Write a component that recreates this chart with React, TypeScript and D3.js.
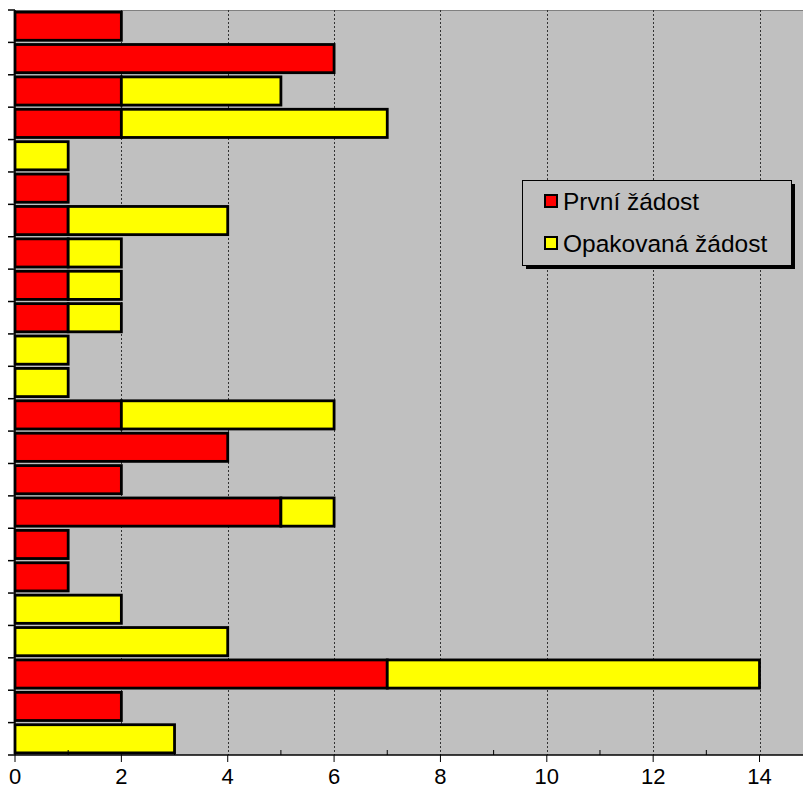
import { useEffect, useRef } from "react";
import * as d3 from "d3";

// one row per category, top to bottom
const rows = d3.range(23).map((i) => `r${i + 1}`);
const prvni = [2, 6, 2, 2, 0, 1, 1, 1, 1, 1, 0, 0, 2, 4, 2, 5, 1, 1, 0, 0, 7, 2, 0];
const opakovana = [0, 0, 3, 5, 1, 0, 3, 1, 1, 1, 1, 1, 4, 0, 0, 1, 0, 0, 2, 4, 7, 0, 3];
const xTicks = [0, 2, 4, 6, 8, 10, 12, 14, 16];
const seriesNames = ["První žádost", "Opakovaná žádost"];
const seriesColors = ["#ff0000", "#ffff00"];

function App() {
  const svgRef = useRef<SVGSVGElement>(null);

  useEffect(() => {
    const width = 803;
    const height = 801;
    const margin = { top: 10, left: 15, bottom: 755 };
    const font = "Arial, 'Liberation Sans', sans-serif";

    const svg = d3.select(svgRef.current).attr("width", width).attr("height", height);
    svg.selectAll("*").remove();

    const x = d3.scaleLinear().domain([0, 16]).range([margin.left, margin.left + 16 * 53.18]);
    const y = d3
      .scaleBand()
      .domain(rows)
      .range([margin.top, margin.bottom])
      .paddingInner(0.13)
      .paddingOuter(0.065);

    // plot area
    svg
      .append("rect")
      .attr("x", margin.left)
      .attr("y", margin.top)
      .attr("width", width - margin.left)
      .attr("height", margin.bottom - margin.top)
      .attr("fill", "#c0c0c0");
    svg
      .append("line")
      .attr("x1", margin.left)
      .attr("x2", width)
      .attr("y1", margin.top + 0.5)
      .attr("y2", margin.top + 0.5)
      .attr("stroke", "#808080")
      .attr("stroke-width", 1);

    // gridlines
    svg
      .selectAll(".grid")
      .data(xTicks.filter((t) => t > 0 && x(t) < width))
      .enter()
      .append("line")
      .attr("x1", (d) => Math.round(x(d)) + 0.5)
      .attr("x2", (d) => Math.round(x(d)) + 0.5)
      .attr("y1", margin.top)
      .attr("y2", margin.bottom)
      .attr("stroke", "#333")
      .attr("stroke-width", 1)
      .attr("stroke-dasharray", "2,2");

    // bars
    rows.forEach((r, i) => {
      let acc = 0;
      [prvni[i], opakovana[i]].forEach((v, si) => {
        if (v > 0) {
          svg
            .append("rect")
            .attr("x", x(acc))
            .attr("y", y(r)!)
            .attr("width", x(acc + v) - x(acc))
            .attr("height", y.bandwidth())
            .attr("fill", seriesColors[si])
            .attr("stroke", "#000")
            .attr("stroke-width", 2.8);
        }
        acc += v;
      });
    });

    // left axis
    svg
      .append("line")
      .attr("x1", margin.left)
      .attr("x2", margin.left)
      .attr("y1", margin.top)
      .attr("y2", margin.bottom)
      .attr("stroke", "#000")
      .attr("stroke-width", 1.5);
    const bounds = d3
      .range(rows.length + 1)
      .map((i) => margin.top + (i * (margin.bottom - margin.top)) / rows.length);
    svg
      .selectAll(".ytick")
      .data(bounds)
      .enter()
      .append("line")
      .attr("x1", 8)
      .attr("x2", margin.left)
      .attr("y1", (d) => d)
      .attr("y2", (d) => d)
      .attr("stroke", "#000")
      .attr("stroke-width", 1.5);

    // bottom axis
    svg
      .append("line")
      .attr("x1", margin.left)
      .attr("x2", width)
      .attr("y1", margin.bottom)
      .attr("y2", margin.bottom)
      .attr("stroke", "#000")
      .attr("stroke-width", 1.5);
    const minor = d3.range(1, 16, 2).filter((t) => x(t) < width);
    svg
      .selectAll(".minor")
      .data(minor)
      .enter()
      .append("line")
      .attr("x1", (d) => x(d))
      .attr("x2", (d) => x(d))
      .attr("y1", margin.bottom - 5)
      .attr("y2", margin.bottom)
      .attr("stroke", "#000");
    const major = xTicks.filter((t) => x(t) < width);
    svg
      .selectAll(".major")
      .data(major)
      .enter()
      .append("line")
      .attr("x1", (d) => x(d))
      .attr("x2", (d) => x(d))
      .attr("y1", margin.bottom)
      .attr("y2", margin.bottom + 7)
      .attr("stroke", "#000");
    svg
      .selectAll(".xlabel")
      .data(major)
      .enter()
      .append("text")
      .attr("x", (d) => x(d))
      .attr("y", 784)
      .attr("text-anchor", "middle")
      .attr("font-family", font)
      .attr("font-size", 22)
      .attr("fill", "#000")
      .text((d) => d);

    // legend
    const lg = svg.append("g").attr("transform", "translate(522,180)");
    lg.append("rect").attr("x", 4).attr("y", 4).attr("width", 269).attr("height", 85).attr("fill", "#000");
    lg.append("rect")
      .attr("x", 0.5)
      .attr("y", 0.5)
      .attr("width", 269)
      .attr("height", 85)
      .attr("fill", "#c0c0c0")
      .attr("stroke", "#000");
    seriesNames.forEach((name, i) => {
      lg.append("rect")
        .attr("x", 23)
        .attr("y", 15 + i * 42)
        .attr("width", 12)
        .attr("height", 12)
        .attr("fill", seriesColors[i])
        .attr("stroke", "#000")
        .attr("stroke-width", 2);
      lg.append("text")
        .attr("x", 41)
        .attr("y", 30 + i * 42)
        .attr("font-family", font)
        .attr("font-size", 24.5)
        .attr("fill", "#000")
        .text(name);
    });
  }, []);

  return <svg ref={svgRef} style={{ position: "absolute", left: 0, top: 0 }}></svg>;
}

export default App;
